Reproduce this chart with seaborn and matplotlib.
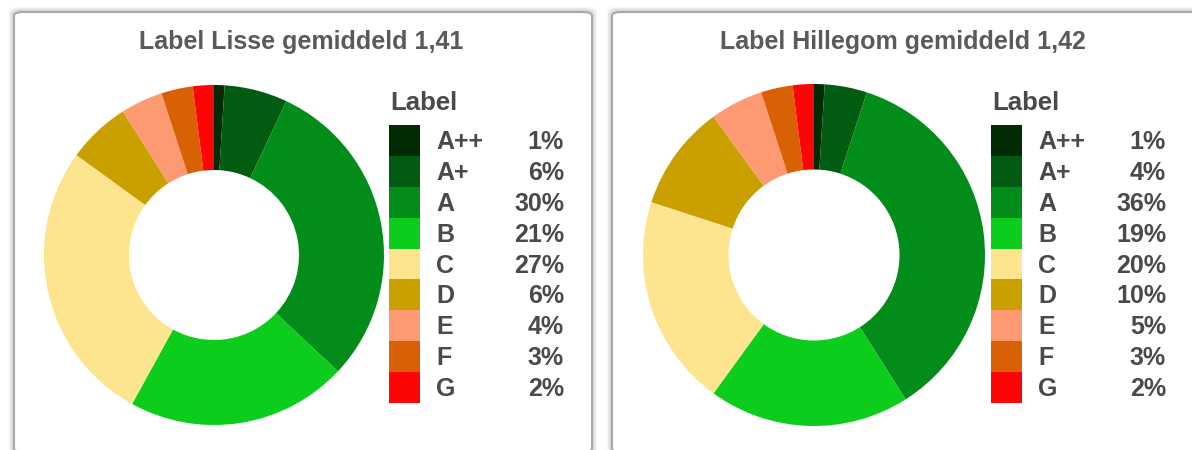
import matplotlib
matplotlib.use("Agg")
import matplotlib.pyplot as plt
from matplotlib.patches import FancyBboxPatch
import seaborn as sns

# Data
labels = ['A++', 'A+', 'A', 'B', 'C', 'D', 'E', 'F', 'G']
lisse = [1, 6, 30, 21, 27, 6, 4, 3, 2]
hillegom = [1, 4, 36, 19, 20, 10, 5, 3, 2]
titles = ['Label Lisse gemiddeld 1,41', 'Label Hillegom gemiddeld 1,42']
colors = ['#012a05', '#015c12', '#028c1a', '#0ccc1c', '#fde48e',
          '#c9a000', '#fd9a72', '#d86005', '#fe0505']

sns.set_style("white")
plt.rcParams['font.family'] = ['Liberation Sans', 'DejaVu Sans']

W, H = 1192, 450
fig = plt.figure(figsize=(W / 100, H / 100), dpi=100)
fig.patch.set_facecolor('white')


def fx(px):
    return px / W


def fy(py):
    return 1 - py / H


# panel frames (x0, x1) in pixels, kept behind the axes
frames = [(14, 592), (612, 1210)]
for x0, x1 in frames:
    for k, a in [(4, 0.06), (2.5, 0.12), (1.2, 0.2)]:
        fig.patches.append(FancyBboxPatch((fx(x0 - k), fy(452 + k)), fx(x1 - x0 + 2 * k), (440 + 2 * k) / H,
                                          boxstyle="round,pad=0,rounding_size=0.008",
                                          transform=fig.transFigure, facecolor='none',
                                          edgecolor='#808080', linewidth=2, alpha=a, zorder=-2))
    fig.patches.append(FancyBboxPatch((fx(x0), fy(452)), fx(x1 - x0), 440 / H,
                                      boxstyle="round,pad=0,rounding_size=0.008",
                                      transform=fig.transFigure, facecolor='white',
                                      edgecolor='#a8a8a8', linewidth=1.5, zorder=-1))

panels = [
    dict(data=lisse, cx=214, cy=255, r=170, title_x=301, leg_x=389),
    dict(data=hillegom, cx=814, cy=255, r=171, title_x=903, leg_x=991),
]

for p, title in zip(panels, titles):
    r = p['r']
    ax = fig.add_axes([fx(p['cx'] - r), fy(p['cy'] + r), fx(2 * r), 2 * r / H])
    ax.pie(p['data'], colors=colors, startangle=90, counterclock=False,
           radius=1, wedgeprops=dict(width=0.5, linewidth=0))
    ax.set_xlim(-1, 1)
    ax.set_ylim(-1, 1)
    ax.axis('off')

    fig.text(fx(p['title_x']), fy(42), title, ha='center', va='center',
             fontsize=18, fontweight='bold', color='#5a5a5a')

    # legend
    lx = p['leg_x']
    lax = fig.add_axes([fx(lx), fy(403), fx(185), 278 / H])
    lax.barh([i + 0.5 for i in range(len(labels))], [31] * len(labels), height=1,
             left=0, color=colors, linewidth=0)
    lax.set_xlim(0, 185)
    lax.set_ylim(len(labels), 0)
    lax.axis('off')
    for i, (lab, val) in enumerate(zip(labels, p['data'])):
        lax.text(47, i + 0.55, lab, ha='left', va='center', fontsize=18,
                 fontweight='bold', color='#4a4a4a', clip_on=False)
        lax.text(175, i + 0.55, f'{val}%', ha='right', va='center', fontsize=18,
                 fontweight='bold', color='#4a4a4a', clip_on=False)
    lax.text(1, -0.7, 'Label', ha='left', va='center', fontsize=18.5,
             fontweight='bold', color='#4a4a4a', clip_on=False)

fig.savefig('out.png', dpi=100)
